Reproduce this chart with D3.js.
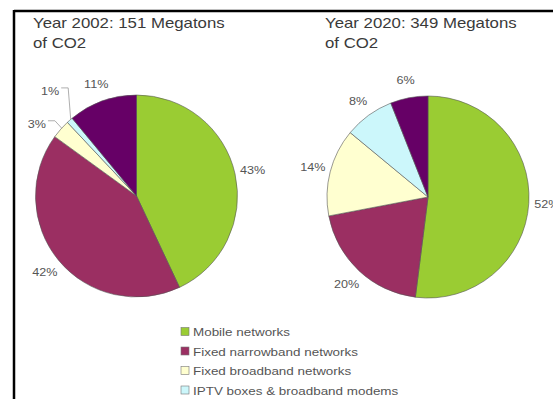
<!DOCTYPE html>
<meta charset="UTF-8">
<style>
    body { margin: 0; background: #fff; }
    svg text { font-family: "Liberation Sans", Arial, sans-serif; }
</style>
<body>
<div id="chart"></div>
<script src="https://d3js.org/d3.v7.min.js"></script>
<script>

// data
var categories = ["Mobile networks", "Fixed narrowband networks", "Fixed broadband networks",
                  "IPTV boxes & broadband modems", "Other"];
var colors = ["#9acc33", "#9b2f62", "#ffffd0", "#ccf7fb", "#660066"];
var years = ["2002", "2020"];
var totals = [151, 349];
var share2002 = [43, 42, 3, 1, 11];
var share2020 = [52, 20, 14, 8, 6];
var legendItems = categories.slice(0, 4);

var width = 553, height = 399;
var stretch = 1.2;   // text in the picture is a bit wide

var svg = d3.select("#chart").append("svg")
    .attr("width", width)
    .attr("height", height);

// frame
svg.append("rect").attr("x", 0).attr("y", 0).attr("width", width).attr("height", height).attr("fill", "#fff");
svg.append("line").attr("x1", 14).attr("x2", width).attr("y1", 11).attr("y2", 11)
    .attr("stroke", "#000").attr("stroke-width", 2.5);
svg.append("line").attr("x1", 14).attr("x2", 14).attr("y1", 10).attr("y2", height)
    .attr("stroke", "#000").attr("stroke-width", 2.5);

function wideText(g, x, y, str, size, anchor) {
    return g.append("text")
        .attr("transform", "translate(" + x + "," + y + ") scale(" + stretch + ",1)")
        .attr("text-anchor", anchor || "start")
        .attr("font-size", size)
        .attr("fill", "#444")
        .text(str);
}

var r = 101;
var pie = d3.pie().sort(null).value(function(d) { return d; });
var arc = d3.arc().innerRadius(0).outerRadius(r);

var charts = [
    {values: share2002, cx: 136.5, cy: 196, tx: 33},
    {values: share2020, cx: 428, cy: 197, tx: 325}
];

charts.forEach(function(c, ci) {
    // title
    wideText(svg, c.tx, 28, "Year " + years[ci] + ": " + totals[ci] + " Megatons", 14).attr("fill", "#3a3a3a");
    wideText(svg, c.tx, 48, "of CO2", 14).attr("fill", "#3a3a3a");

    var g = svg.append("g").attr("transform", "translate(" + c.cx + "," + c.cy + ")");
    var arcs = pie(c.values);

    g.selectAll("path")
        .data(arcs)
        .enter().append("path")
        .attr("d", arc)
        .attr("fill", function(d, i) { return colors[i]; })
        .attr("stroke", "#555")
        .attr("stroke-width", 0.6);

    arcs.forEach(function(d) {
        var mid = (d.startAngle + d.endAngle) / 2;
        var lr = r + 18, ang = mid;
        if (d.value < 2) { lr = r + 35; ang = mid + 0.035; }
        else if (d.value < 5) { lr = r + 22; ang = mid - 0.095; }
        var lx = Math.sin(ang) * lr, ly = -Math.cos(ang) * lr;
        if (d.value < 5) {
            // leader line from label to slice edge
            var ex = Math.sin(mid) * r, ey = -Math.cos(mid) * r;
            g.append("polyline")
                .attr("points", [[lx + 11, ly - 3], [lx + 18, ly - 3], [ex + 1, ey - 1]].join(" "))
                .attr("fill", "none")
                .attr("stroke", "#999")
                .attr("stroke-width", 0.8);
        }
        wideText(g, lx, ly + 4, d.value + "%", 10.5, "middle").attr("fill", "#555");
    });
});

// legend
var legend = svg.append("g").attr("transform", "translate(181,332)");
legendItems.forEach(function(name, i) {
    var y = i * 19.5;
    legend.append("rect")
        .attr("x", 0).attr("y", y - 4.5)
        .attr("width", 8).attr("height", 8)
        .attr("fill", colors[i])
        .attr("stroke", "#777")
        .attr("stroke-width", 0.6);
    wideText(legend, 12, y + 4, name, 11.2).attr("fill", "#555");
});

</script>
</body>
